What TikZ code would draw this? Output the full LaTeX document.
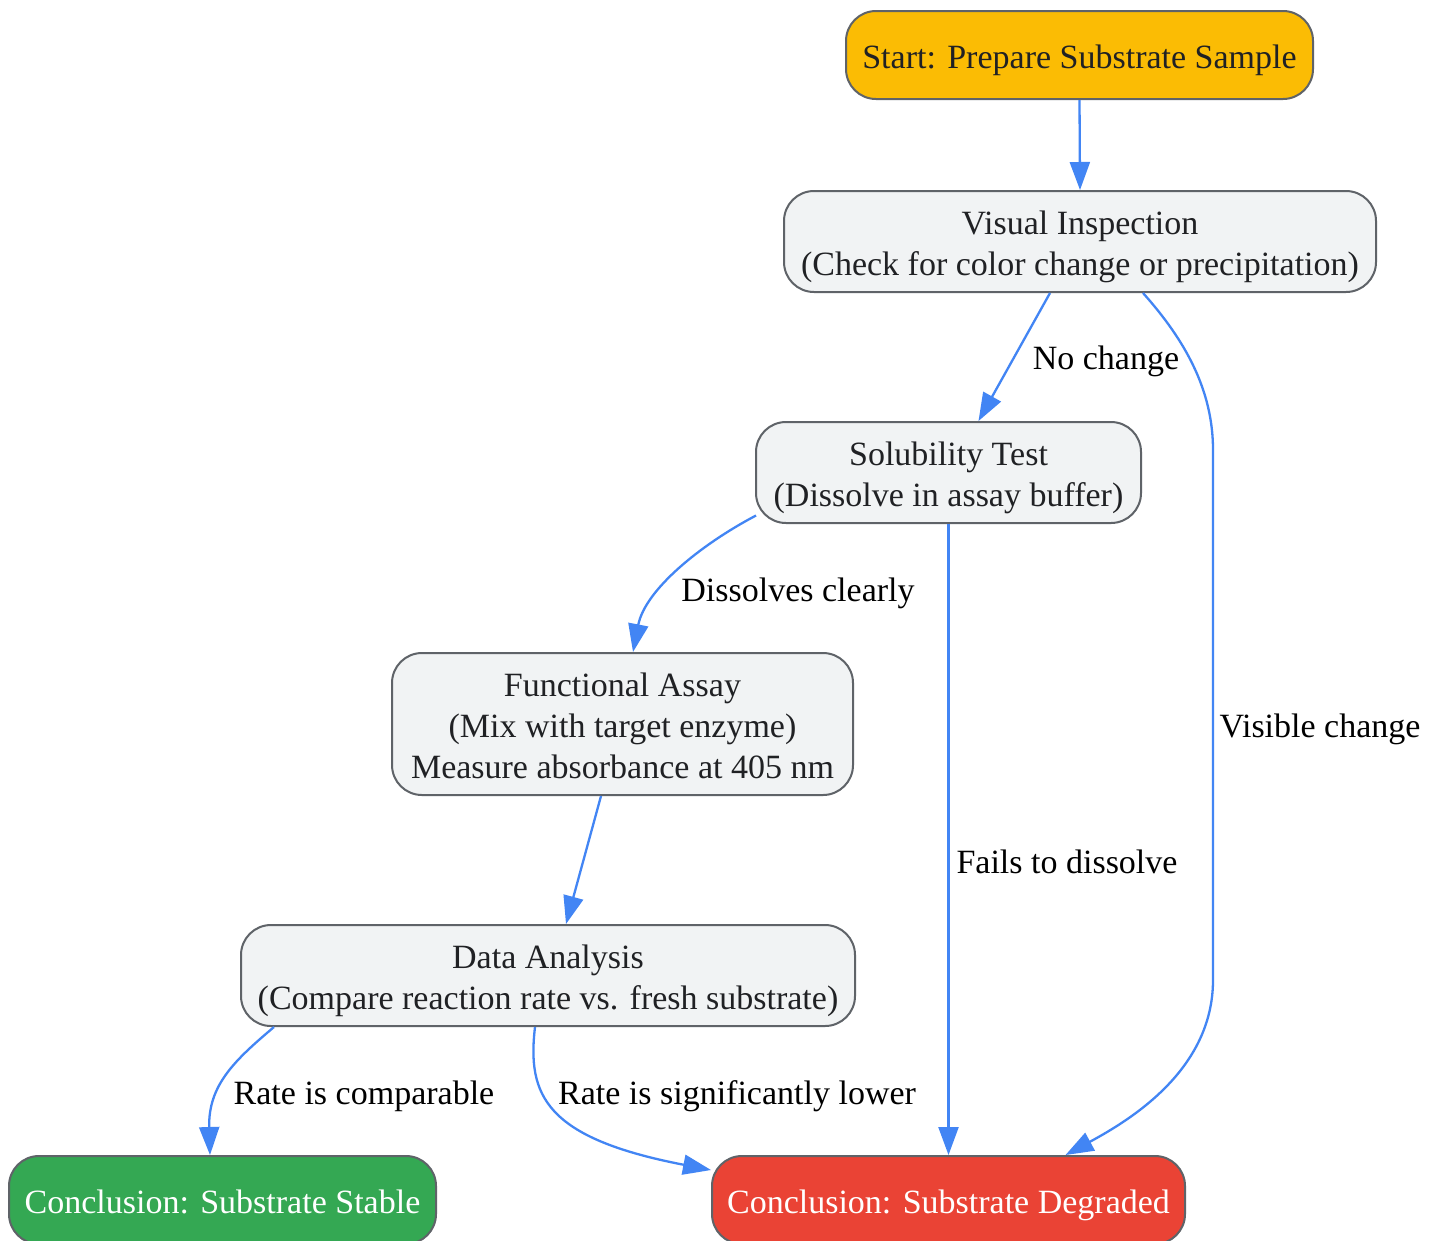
\documentclass[tikz,border=0pt]{standalone}
\usepackage{fontspec}
\setmainfont{Liberation Serif}
\usetikzlibrary{arrows.meta}
\definecolor{edgeblue}{HTML}{4285F4}
\definecolor{boxgray}{HTML}{F1F3F4}
\definecolor{bordergray}{HTML}{5F6368}
\definecolor{textdark}{HTML}{202124}
\definecolor{startyellow}{HTML}{FBBC04}
\definecolor{stablegreen}{HTML}{34A853}
\definecolor{degradedred}{HTML}{EA4335}
\newcommand\topst{\rule{0pt}{34pt}}
\newcommand\botst{\rule[-8pt]{0pt}{8pt}}
\newcommand\onest{\rule[-8pt]{0pt}{42pt}}
\begin{document}
\begin{tikzpicture}[x=1pt,y=-1pt,
  box/.style={draw=bordergray, line width=2pt, rounded corners=30pt, fill=boxgray,
    text=textdark, align=center, inner sep=0pt, font=\fontsize{34}{41}\selectfont},
  conn/.style={draw=edgeblue, line width=2.3pt, -{Triangle[length=28pt,width=20pt]}},
  lbl/.style={font=\fontsize{34}{41}\selectfont, text=black, inner sep=0pt,
    text height=31pt, text depth=8pt}]
\useasboundingbox (0,0) rectangle (1439,1240);
\fill[white] (0,0) rectangle (1439,1240);

\node[box, fill=startyellow, minimum width=467pt, minimum height=88pt] (start) at (1079.5,55) {\onest Start: Prepare Substrate Sample};
\node[box, minimum width=592pt, minimum height=101pt] (vis) at (1080,241.5) {\topst Visual Inspection\\\botst(Check for color change or precipitation)};
\node[box, minimum width=385pt, minimum height=101pt] (sol) at (948.5,472.5) {\topst Solubility Test\\\botst(Dissolve in assay buffer)};
\node[box, minimum width=461pt, minimum height=142pt] (fun) at (622.5,724) {\topst Functional Assay\\(Mix with target enzyme)\\\botst Measure absorbance at 405 nm};
\node[box, minimum width=614pt, minimum height=101pt] (dat) at (548,975.5) {\topst Data Analysis\\\botst(Compare reaction rate vs. fresh substrate)};
\node[box, fill=stablegreen, text=white, minimum width=427pt, minimum height=88pt] (stab) at (222.5,1200) {\onest Conclusion: Substrate Stable};
\node[box, fill=degradedred, text=white, minimum width=473pt, minimum height=88pt] (deg) at (948.5,1200) {\onest Conclusion: Substrate Degraded};

\draw[conn] (start.south) -- (vis.north);
\draw[conn] ([xshift=-30pt]vis.south) -- ([xshift=30pt]sol.north);
\draw[conn] ([xshift=63pt]vis.south) .. controls (1185,340) and (1213,390) .. (1213,450)
  -- (1213,980) .. controls (1213,1070) and (1130,1120) .. ([xshift=117pt]deg.north);
\draw[conn] ([xshift=1pt,yshift=-43pt]sol.west) .. controls (700,545) and (645,590) .. ([xshift=10.5pt]fun.north);
\draw[conn] (sol.south) -- (deg.north);
\draw[conn] ([xshift=-21.5pt]fun.south) -- ([xshift=18pt]dat.north);
\draw[conn] ([xshift=-274pt]dat.south) .. controls (235,1060) and (208,1085) .. ([xshift=-12.5pt]stab.north);
\draw[conn] ([xshift=-13pt]dat.south) .. controls (527,1095) and (545,1138) .. ([yshift=30pt]deg.west);

\node[lbl] (l1) at (1106,358) {No change};
\node[lbl] (l2) at (1320,726) {Visible change};
\node[lbl] (l3) at (798,590) {Dissolves clearly};
\node[lbl] (l4) at (1067,862) {Fails to dissolve};
\node[lbl] (l5) at (364,1093) {Rate is comparable};
\node[lbl] (l6) at (737,1093) {Rate is significantly lower};
\end{tikzpicture}
\end{document}
